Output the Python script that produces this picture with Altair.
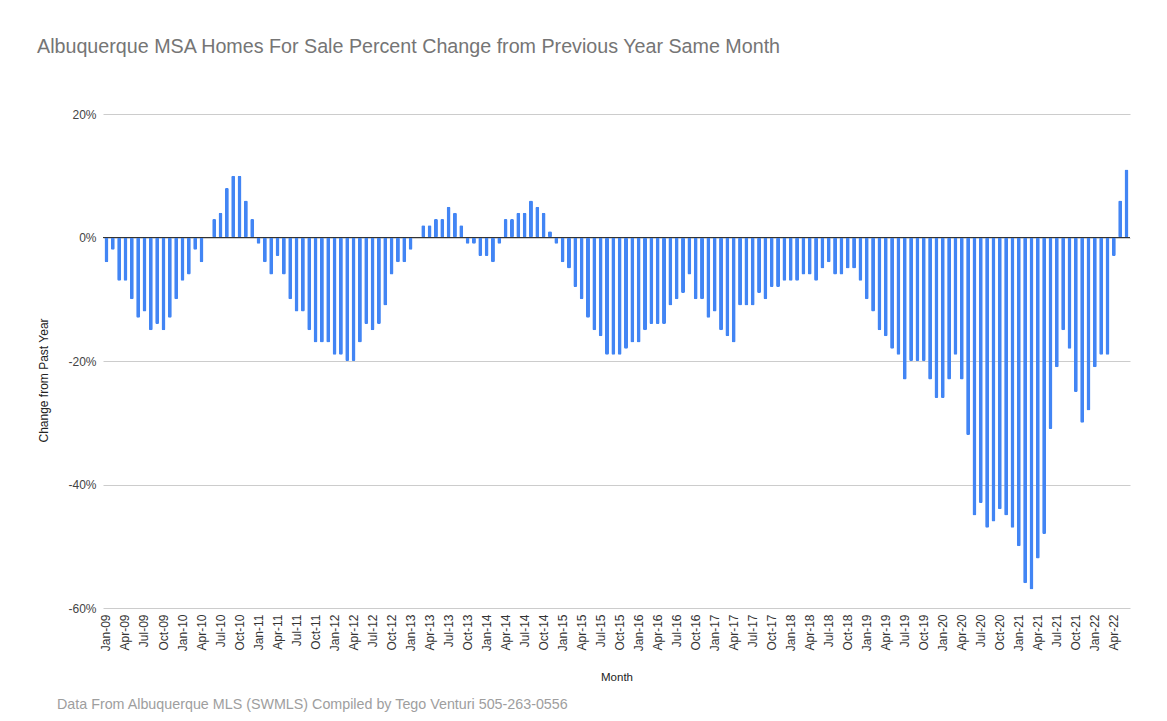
import altair as alt
import pandas as pd

month_names = ["Jan", "Feb", "Mar", "Apr", "May", "Jun",
               "Jul", "Aug", "Sep", "Oct", "Nov", "Dec"]
years = list(range(2009, 2023))
months = [f"{m}-{y % 100:02d}" for y in years for m in month_names][:162]

change_pct = [
    -4, -2, -7, -7, -10, -13, -12, -15, -14, -15, -13, -10,   # 2009
    -7, -6, -2, -4, 0, 3, 4, 8, 10, 10, 6, 3,                 # 2010
    -1, -4, -6, -3, -6, -10, -12, -12, -15, -17, -17, -17,    # 2011
    -19, -19, -20, -20, -17, -14, -15, -14, -11, -6, -4, -4,  # 2012
    -2, 0, 2, 2, 3, 3, 5, 4, 2, -1, -1, -3,                   # 2013
    -3, -4, -1, 3, 3, 4, 4, 6, 5, 4, 1, -1,                   # 2014
    -4, -5, -8, -10, -13, -15, -16, -19, -19, -19, -18, -17,  # 2015
    -17, -15, -14, -14, -14, -11, -10, -9, -6, -10, -10, -13, # 2016
    -12, -15, -16, -17, -11, -11, -11, -9, -10, -8, -8, -7,   # 2017
    -7, -7, -6, -6, -7, -5, -4, -6, -6, -5, -5, -7,           # 2018
    -10, -12, -15, -16, -18, -19, -23, -20, -20, -20, -23, -26,  # 2019
    -26, -23, -19, -23, -32, -45, -43, -47, -46, -44, -45, -47,  # 2020
    -50, -56, -57, -52, -48, -31, -21, -15, -18, -25, -30, -28,  # 2021
    -21, -19, -19, -3, 6, 11,                                    # 2022
]

tick_months = months[::3]
y_ticks = [-60, -40, -20, 0, 20]

title_text = "Albuquerque MSA Homes For Sale Percent Change from Previous Year Same Month"
footer_text = "Data From Albuquerque MLS (SWMLS) Compiled by Tego Venturi 505-263-0556"

df = pd.DataFrame({"Month": months, "Change": change_pct})
footer_df = pd.DataFrame({"note": [footer_text]})

FONT = "Liberation Sans"

x_enc = alt.X(
    "Month:N",
    sort=months,
    scale=alt.Scale(paddingInner=0.37, paddingOuter=0.235),
    axis=alt.Axis(
        title="Month",
        values=tick_months,
        labelAngle=-90,
        labelFontSize=12,
        labelColor="#333333",
        labelPadding=6,
        ticks=False,
        domain=False,
        grid=False,
        titleFontSize=11.5,
        titleFontWeight="normal",
        titleColor="#222222",
        titleY=69,
        titleBaseline="middle",
        labelOverlap=False,
    ),
)

y_enc = alt.Y(
    "Change:Q",
    scale=alt.Scale(domain=[-60, 20], nice=False),
    axis=alt.Axis(
        title="Change from Past Year",
        values=y_ticks,
        labelExpr="datum.value + '%'",
        labelFontSize=12,
        labelColor="#444444",
        labelPadding=7,
        ticks=False,
        domain=False,
        grid=True,
        gridColor="#cccccc",
        titleFontSize=12,
        titleFontWeight="normal",
        titleColor="#222222",
        titleX=-60,
        titleY=266,
        titleBaseline="middle",
    ),
)

bars = alt.Chart(df).mark_bar(color="#4285F4", cornerRadius=1.5).encode(
    x=x_enc, y=y_enc
)

zero = alt.Chart(df).mark_rule(color="#333333", strokeWidth=1).encode(
    y=alt.datum(0)
)

footer = alt.Chart(footer_df).mark_text(
    align="left", baseline="alphabetic", fontSize=14.3, color="#9e9e9e", font=FONT
).encode(
    x=alt.value(-46), y=alt.value(595), text="note:N"
)

chart = alt.layer(bars, zero, footer).properties(
    width=1027,
    height=494,
    title=alt.TitleParams(
        text=title_text,
        anchor="start",
        frame="group",
        fontSize=19.7,
        fontWeight="normal",
        color="#757575",
        font=FONT,
        dx=-66,
        offset=35,
        baseline="alphabetic",
    ),
    padding={"left": 95, "top": 106, "right": 20, "bottom": 106},
    autosize=alt.AutoSizeParams(type="none"),
).configure(
    font=FONT,
).configure_view(
    stroke=None
).configure_axis(
    labelFont=FONT, titleFont=FONT
)

chart.save("out.html", embed_options={"renderer": "svg", "actions": False})
